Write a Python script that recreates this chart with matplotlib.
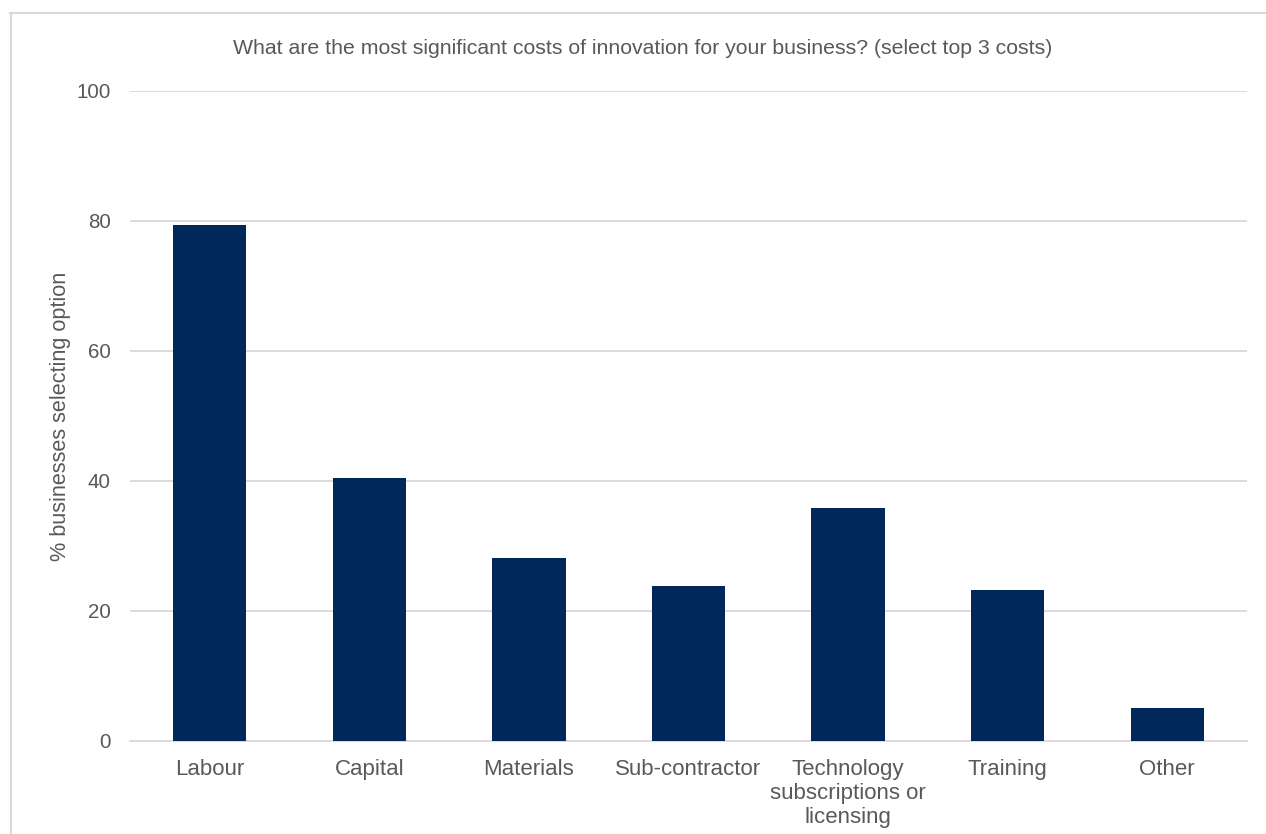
#!/usr/bin/env python3

import matplotlib
matplotlib.use("Agg")
import matplotlib.pyplot as plt
from matplotlib.lines import Line2D

categories = [
    "Labour",
    "Capital",
    "Materials",
    "Sub-contractor",
    "Technology\nsubscriptions or\nlicensing",
    "Training",
    "Other",
]
percent_selecting = [79.4, 40.5, 28.2, 23.9, 35.8, 23.3, 5.1]
y_ticks = [0, 20, 40, 60, 80, 100]

title = "What are the most significant costs of innovation for your business? (select top 3 costs)"
y_label = "% businesses selecting option"

BAR_COLOR = "#00285A"
TEXT_COLOR = "#595959"
GRID_COLOR = "#D9D9D9"


def main():
    plt.rcParams["font.family"] = ["Liberation Sans", "DejaVu Sans"]

    W, H = 1266, 834
    fig = plt.figure(figsize=(W / 100, H / 100), dpi=100)
    ax = fig.add_axes([130 / W, (H - 741) / H, (1247 - 130) / W, (741 - 91) / H])

    x = list(range(len(categories)))
    ax.bar(x, percent_selecting, width=0.46, color=BAR_COLOR, zorder=3)

    ax.set_xlim(-0.5, len(categories) - 0.5)
    ax.set_ylim(0, 100)
    ax.set_yticks(y_ticks)
    ax.set_xticks(x)
    ax.set_xticklabels(categories, linespacing=1.2)

    ax.grid(axis="y", color=GRID_COLOR, linewidth=1.3, zorder=0)
    for side in ["left", "right", "top"]:
        ax.spines[side].set_visible(False)
    ax.spines["bottom"].set_color(GRID_COLOR)
    ax.spines["bottom"].set_linewidth(1.3)

    ax.tick_params(axis="y", length=0, pad=14, labelsize=14.8, labelcolor=TEXT_COLOR)
    ax.tick_params(axis="x", length=0, pad=13, labelsize=16, labelcolor=TEXT_COLOR)

    ax.set_ylabel(y_label, fontsize=15.6, color=TEXT_COLOR, labelpad=4)
    fig.text(643 / W, (H - 48) / H, title, ha="center", va="center",
             fontsize=15.3, color=TEXT_COLOR)

    # chart frame: only the left and top edges fall inside the canvas
    fig.add_artist(Line2D([10.5 / W, 10.5 / W], [0, (H - 13) / H],
                          transform=fig.transFigure, color=GRID_COLOR, linewidth=1.5))
    fig.add_artist(Line2D([10 / W, 1], [(H - 13) / H, (H - 13) / H],
                          transform=fig.transFigure, color=GRID_COLOR, linewidth=1.5))

    fig.savefig("out.png", dpi=100, facecolor="white")


if __name__ == "__main__":
    main()
